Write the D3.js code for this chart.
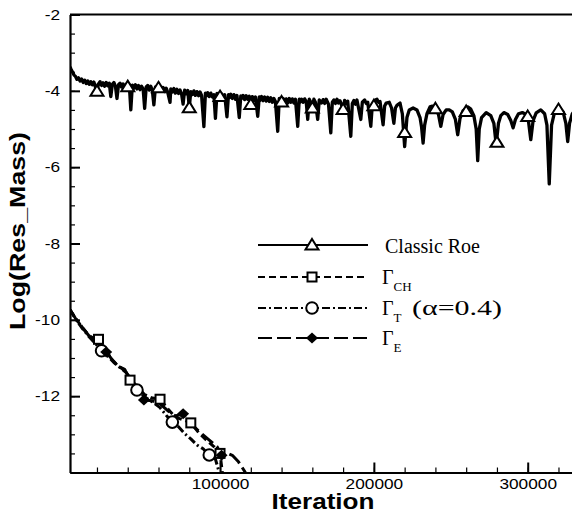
<!DOCTYPE html>
<html>
<head>
<meta charset="utf-8">
<script src="https://cdn.jsdelivr.net/npm/d3@7"></script>
<style>
  body { margin: 0; background: #fff; }
  svg { display: block; }
</style>
</head>
<body>
<div id="container"></div>
<script>
// iteration in thousands, log10 of the mass residual
var classicRoe = [
  [2.5,-3.37],[3,-3.42],[4,-3.5],[5,-3.58],[6,-3.62],[7,-3.7],[8,-3.66],[9,-3.74],[10,-3.69],[11,-3.78],
  [12,-3.72],[13,-3.81],[14,-3.74],[15,-3.83],[16,-3.76],[17,-3.84],[18,-3.77],[19,-3.9],[20,-4.01],[21,-3.82],
  [22,-3.76],[23,-3.86],[24,-3.79],[25,-3.88],[26,-3.78],[27,-3.87],[28,-3.8],[29,-4.15],[30,-3.83],[31,-3.78],
  [32,-3.88],[33,-4.2],[34,-3.84],[35,-3.8],[36,-3.9],[37,-3.82],[38,-3.93],[39,-3.83],[40,-3.89],[41,-3.84],
  [42,-4.5],[43,-3.85],[44,-3.93],[45,-3.84],[46,-3.95],[47,-3.86],[48,-3.97],[49,-3.88],[50,-3.95],[51,-4.46],
  [52,-3.9],[53,-3.86],[54,-3.98],[55,-3.88],[56,-3.99],[57,-4.37],[58,-3.9],[59,-3.98],[60,-3.92],[61,-3.9],
  [62,-4.0],[63,-3.91],[64,-4.02],[65,-3.93],[66,-4.04],[67.5,-4.3],[68,-3.95],[69,-4.03],[70,-3.94],[71,-4.06],
  [72,-3.96],[73,-4.07],[74,-3.98],[75,-4.08],[76,-4.35],[77,-3.98],[78,-4.08],[79,-3.99],[80,-4.44],[81,-4.02],
  [82,-4.1],[83,-4.0],[84,-4.12],[85,-4.02],[86,-4.13],[87,-4.03],[88,-4.12],[89.5,-4.94],[90.5,-4.06],[91,-4.14],
  [92,-4.05],[93,-4.15],[94,-4.06],[95,-4.16],[96,-4.1],[97,-4.72],[98,-4.07],[99,-4.16],[100,-4.15],[101,-4.08],
  [102,-4.18],[103,-4.1],[104.5,-4.68],[105.5,-4.1],[106,-4.18],[107,-4.09],[108,-4.2],[109,-4.1],[110,-4.22],[111,-4.12],
  [112.5,-4.7],[113.5,-4.13],[114,-4.2],[115,-4.12],[116,-4.23],[117,-4.13],[118,-4.22],[119,-4.14],[120,-4.36],[121,-4.15],
  [122,-4.25],[123,-4.16],[124.5,-4.67],[125.5,-4.16],[126,-4.25],[127,-4.15],[128,-4.26],[129,-4.16],[130,-4.27],[131,-4.17],
  [132,-4.28],[133,-4.18],[134,-4.3],[135,-4.2],[136,-4.28],[137.5,-5.06],[138.5,-4.2],[139,-4.3],[140,-4.29],[141,-4.2],
  [142,-4.3],[143,-4.21],[144,-4.32],[145,-4.2],[146,-4.3],[147,-4.21],[148,-4.32],[149,-4.22],[150.5,-4.93],[151.5,-4.22],
  [152,-4.3],[153,-4.22],[154,-4.3],[155,-4.21],[156,-4.28],[157,-4.75],[158,-4.22],[159,-4.3],[160,-4.45],[161,-4.22],
  [162,-4.3],[163.5,-4.75],[164.5,-4.24],[166,-4.32],[167,-4.23],[168,-4.33],[169,-4.22],[170.5,-4.35],[172,-5.1],[173,-4.3],
  [174,-4.24],[175,-4.33],[176,-4.22],[177,-4.32],[178,-4.26],[180,-4.49],[181,-4.25],[182,-4.34],[183,-4.27],[185,-5.19],
  [186,-4.33],[187,-4.25],[188,-4.35],[189,-4.24],[191.5,-4.75],[192.5,-4.3],[194,-4.24],[195,-4.33],[196,-4.3],[198,-4.93],
  [199,-4.36],[200,-4.39],[201,-4.24],[202,-4.22],[203,-4.3],[204,-4.28],[206,-4.89],[207,-4.4],[208,-4.32],[210,-4.3],
  [211.5,-4.45],[213,-4.85],[214,-4.45],[215,-4.38],[217,-4.32],[218.5,-4.6],[220,-5.46],[221.5,-4.7],[223,-4.5],[225.5,-4.45],
  [228,-4.5],[230,-4.7],[231,-4.95],[232,-5.37],[233,-4.9],[234.5,-4.6],[236.5,-4.42],[238,-4.4],[240,-4.47],[242,-4.62],
  [243.5,-4.93],[245,-4.62],[247,-4.5],[249,-4.5],[251,-4.55],[253,-4.75],[254.5,-5.15],[256,-4.72],[258,-4.52],[261,-4.42],
  [263,-4.48],[265,-4.65],[266.5,-5.0],[267.5,-5.83],[268.5,-5.0],[270,-4.7],[273,-4.57],[276,-4.65],[278,-4.85],[279.5,-5.41],
  [281,-4.85],[282.5,-4.65],[284.5,-4.57],[287,-4.62],[289,-4.78],[290.5,-4.97],[292,-4.75],[294,-4.6],[296.5,-4.57],[299,-4.62],
  [300.5,-4.8],[302,-5.28],[303.5,-4.78],[305.5,-4.58],[308.5,-4.5],[311,-4.6],[312.5,-4.9],[314,-6.44],[315.5,-4.9],[317.5,-4.55],
  [320.5,-4.45],[323,-4.55],[324.8,-4.85],[326,-5.33],[327.2,-4.85],[329,-4.6],[331,-4.5]
];
var gammaCH = [
  [2.5,-9.74],[6,-9.95],[10,-10.18],[15,-10.42],[21,-10.55],[26,-10.82],[30,-11.05],[34,-11.22],[38,-11.3],[41.5,-11.55],
  [46,-11.74],[51,-11.96],[56,-12.05],[61,-12.08],[66,-12.33],[71,-12.55],[76,-12.62],[81,-12.7],[86,-12.95],[91,-13.15],
  [96,-13.32],[100,-13.5],[101.5,-14.0]
];
var gammaT = [
  [2.5,-9.74],[6,-9.97],[10,-10.2],[15,-10.45],[19,-10.62],[23,-10.81],[27,-10.95],[31,-11.12],[35,-11.25],[39,-11.38],
  [42,-11.6],[46,-11.84],[51,-12.02],[56,-12.15],[61,-12.3],[65,-12.5],[69,-12.68],[73,-12.8],[77,-12.98],[81,-13.12],
  [85,-13.28],[89,-13.38],[93,-13.55],[97,-13.65],[99.5,-14.0]
];
var gammaE = [
  [2.5,-9.74],[6,-9.96],[10,-10.17],[15,-10.43],[20,-10.6],[26,-10.84],[30,-11.05],[34,-11.22],[38,-11.32],[42,-11.55],
  [46,-11.78],[50.5,-12.1],[56,-12.12],[61,-12.2],[66,-12.38],[71,-12.52],[76,-12.46],[81,-12.72],[87,-12.95],[93,-13.15],
  [98,-13.32],[101,-13.55],[104,-13.48],[108,-13.55],[112,-13.72],[116.5,-14.0]
];

// symbols sitting on the curves
var roeMarks = [
  [20,-4.01],[40,-3.89],[60,-3.92],[80,-4.44],[100,-4.15],[120,-4.36],[140,-4.29],[160,-4.45],
  [180,-4.49],[200,-4.39],[220,-5.09],[240,-4.47],[260,-4.54],[280,-5.35],[300,-4.67],[320,-4.49]
];
var chMarks = [[21,-10.51],[41.5,-11.58],[61,-12.08],[81,-12.7],[100,-13.5]];
var tMarks = [[23,-10.81],[46,-11.84],[69,-12.68],[93,-13.54]];
var eMarks = [[26,-10.84],[50.5,-12.1],[76,-12.46],[101,-13.55]];

var yTicks = [-12, -10, -8, -6, -4, -2];
var xTicks = [100000, 200000, 300000];
var legendNames = ["Classic Roe", "CH", "T", "E"];

const width = 572;
const height = 515;

const x = d3.scaleLinear().domain([2470, 331000]).range([70, 575.4]);
const y = d3.scaleLinear().domain([-14, -2]).range([472.5, 14.5]);

const svg = d3.select("#container")
  .append("svg")
    .attr("width", width)
    .attr("height", height);

svg.append("clipPath").attr("id", "plot")
  .append("rect")
    .attr("x", 70).attr("y", 14.5)
    .attr("width", 510).attr("height", 458);

const line = d3.line()
  .x(d => x(d[0] * 1000))
  .y(d => y(d[1]));

const series = [
  {data: classicRoe, marks: roeMarks, dash: null,      shape: "triangle", w: 3.3},
  {data: gammaCH,    marks: chMarks,  dash: "7,4",     shape: "square",   w: 3},
  {data: gammaT,     marks: tMarks,   dash: "8,3,2,3", shape: "circle",   w: 3},
  {data: gammaE,     marks: eMarks,   dash: "14,5",    shape: "diamond",  w: 3}
];

function drawMark(g, shape, cx, cy) {
  if (shape == "triangle") {
    g.append("path")
      .attr("d", "M" + cx + "," + (cy - 6) + "l6.5,10.5h-13z")
      .attr("fill", "#fff").attr("stroke", "#000").attr("stroke-width", 2);
  } else if (shape == "square") {
    g.append("rect")
      .attr("x", cx - 4.5).attr("y", cy - 4.5)
      .attr("width", 9).attr("height", 9)
      .attr("fill", "#fff").attr("stroke", "#000").attr("stroke-width", 2);
  } else if (shape == "circle") {
    g.append("circle")
      .attr("cx", cx).attr("cy", cy).attr("r", 5.8)
      .attr("fill", "#fff").attr("stroke", "#000").attr("stroke-width", 2);
  } else {
    g.append("path")
      .attr("d", "M" + cx + "," + (cy - 5.5) + "l6,5.5l-6,5.5l-6,-5.5z")
      .attr("fill", "#000");
  }
}

const plot = svg.append("g").attr("clip-path", "url(#plot)");

// curves
series.forEach(s => {
  plot.append("path")
    .datum(s.data)
    .attr("fill", "none")
    .attr("stroke", "#000")
    .attr("stroke-width", s.w)
    .attr("stroke-linejoin", "round")
    .attr("stroke-dasharray", s.dash)
    .attr("d", line);
});

// symbols
series.forEach(s => {
  s.marks.forEach(m => drawMark(plot, s.shape, x(m[0] * 1000), y(m[1])));
});

// frame top
svg.append("line")
  .attr("x1", x.range()[0]).attr("x2", x.range()[1])
  .attr("y1", y(-2)).attr("y2", y(-2))
  .attr("stroke", "#000").attr("stroke-width", 2);

const stretch = 1.15;

// y-axis
svg.append("g")
  .attr("transform", "translate(70,0)")
  .call(d3.axisLeft(y).tickValues(d3.range(-14, -1.9, 0.5)).tickSize(-5).tickSizeOuter(0).tickFormat(""))
  .call(g => g.selectAll("line").attr("stroke-width", 1.2));

svg.append("g")
  .attr("transform", "translate(70,0)")
  .call(d3.axisLeft(y).tickValues(yTicks).tickSize(-10).tickSizeOuter(0).tickPadding(10).tickFormat(d => String(d)))
  .call(g => g.select(".domain").attr("stroke-width", 2.2))
  .call(g => g.selectAll("line").attr("stroke-width", 2))
  .selectAll("text")
    .attr("x", -10 / stretch)
    .attr("transform", "scale(" + stretch + ",1)")
    .style("font-family", "'Liberation Sans', Arial, sans-serif")
    .style("font-size", "15px");

// x-axis
svg.append("g")
  .attr("transform", "translate(0,472.5)")
  .call(d3.axisBottom(x).tickValues(d3.range(20000, 331000, 20000)).tickSize(-5).tickSizeOuter(0).tickFormat(""))
  .call(g => g.selectAll("line").attr("stroke-width", 1.2));

svg.append("g")
  .attr("transform", "translate(0,472.5)")
  .call(d3.axisBottom(x).tickValues(xTicks).tickSize(-10).tickSizeOuter(0).tickPadding(6).tickFormat(d => String(d)))
  .call(g => g.select(".domain").attr("stroke-width", 2.2))
  .call(g => g.selectAll("line").attr("stroke-width", 2))
  .selectAll("text")
    .attr("transform", "scale(" + stretch + ",1)")
    .style("font-family", "'Liberation Sans', Arial, sans-serif")
    .style("font-size", "15px");

// axis titles
svg.append("text")
  .attr("x", 323).attr("y", 509)
  .attr("text-anchor", "middle")
  .attr("textLength", 103).attr("lengthAdjust", "spacingAndGlyphs")
  .style("font-family", "'Liberation Sans', Arial, sans-serif")
  .style("font-size", "22px").style("font-weight", "bold")
  .text("Iteration");

svg.append("text")
  .attr("transform", "translate(25,231)rotate(-90)")
  .attr("text-anchor", "middle")
  .attr("textLength", 198).attr("lengthAdjust", "spacingAndGlyphs")
  .style("font-family", "'Liberation Sans', Arial, sans-serif")
  .style("font-size", "22px").style("font-weight", "bold")
  .text("Log(Res_Mass)");

// legend
const legendY = [245, 277, 308, 338];
const legend = svg.append("g")
  .style("font-family", "'Liberation Serif', 'Times New Roman', serif");
series.forEach((s, i) => {
  const ly = legendY[i];
  legend.append("line")
    .attr("x1", 258).attr("x2", 368)
    .attr("y1", ly).attr("y2", ly)
    .attr("stroke", "#000").attr("stroke-width", 2)
    .attr("stroke-dasharray", s.dash);
  drawMark(legend, s.shape, 312, ly);

  if (i == 0) {
    legend.append("text")
      .attr("x", 385).attr("y", ly + 8)
      .style("font-size", "20px")
      .text(legendNames[i]);
  } else {
    const t = legend.append("text")
      .attr("x", 382).attr("y", ly + 7)
      .style("font-size", "20px");
    t.append("tspan").text("\u0393");
    t.append("tspan").attr("dy", 7).style("font-size", "13px").text(legendNames[i]);
    if (i == 2) {
      legend.append("text")
        .attr("x", 412).attr("y", ly + 7)
        .attr("textLength", 90).attr("lengthAdjust", "spacingAndGlyphs")
        .style("font-size", "20px")
        .text("(\u03b1=0.4)");
    }
  }
});
</script>
</body>
</html>
